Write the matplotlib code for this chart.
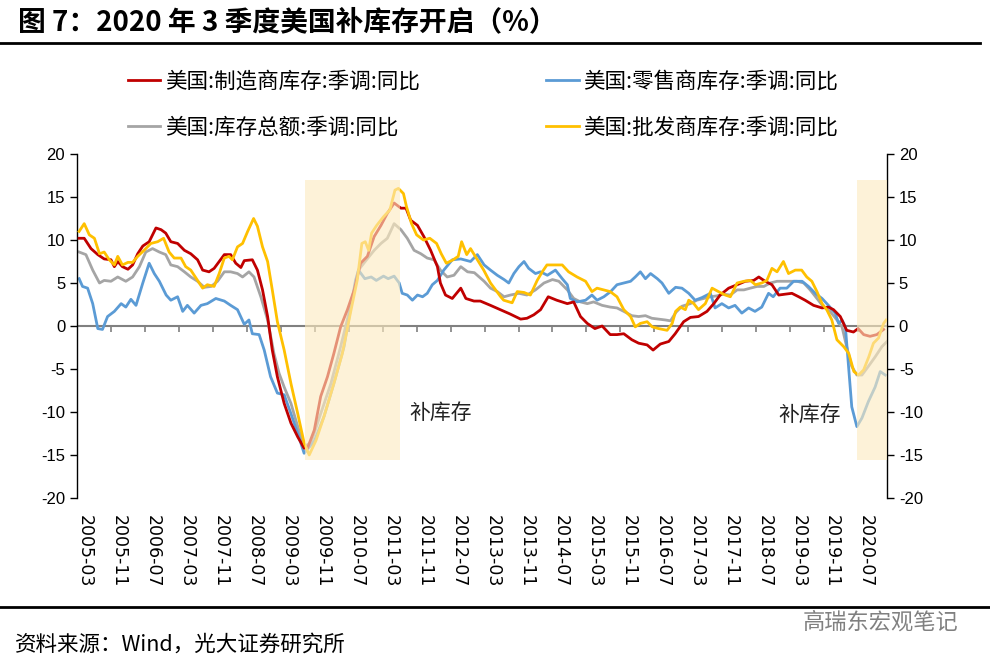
import numpy as np
import matplotlib.pyplot as plt
from matplotlib.lines import Line2D

plt.rcParams['font.family'] = ['Noto Sans CJK SC', 'DejaVu Sans']
plt.rcParams['axes.unicode_minus'] = False

# x values: months since 2005-03
tick_labels = ['2005-03', '2005-11', '2006-07', '2007-03', '2007-11', '2008-07',
               '2009-03', '2009-11', '2010-07', '2011-03', '2011-11', '2012-07',
               '2013-03', '2013-11', '2014-07', '2015-03', '2015-11', '2016-07',
               '2017-03', '2017-11', '2018-07', '2019-03', '2019-11', '2020-07']

# 美国:制造商库存:季调:同比
mfg_t = [0.5, 1.7, 3.3, 4.9, 6.4, 8.0, 8.8, 9.6, 10.7, 12.0, 13.1, 14.3, 15.5, 17.0, 18.6, 19.8,
         20.9, 22.1, 23.7, 25.3, 26.8, 28.4, 29.6, 31.1, 32.3, 33.5, 34.7, 36.2, 37.4, 38.6, 39.4,
         41.3, 42.5, 43.7, 44.9, 46.0, 47.2, 48.8, 50.4, 52.0, 53.5, 54.3, 55.9, 57.4, 59.0, 60.5,
         62.1, 63.7, 65.3, 66.8, 68.4, 70.0, 71.6, 73.1, 74.7, 76.3, 77.5, 78.6, 80.2, 81.7, 83.3,
         84.9, 85.6, 86.8, 88.4, 90.4, 91.6, 93.5, 95.0, 97.4, 99.7, 102.0, 104.5, 106.0, 107.6,
         109.2, 111.0, 113.0, 115.5, 117.0, 118.6, 120.2, 122.0, 123.7, 125.6, 127.2, 128.8, 130.7,
         132.3, 134.3, 135.7, 137.4, 139.4, 140.9, 142.9, 144.5, 146.4, 148.4, 150.0, 151.5, 153.5,
         155.5, 157.4, 159.4, 160.6, 162.1, 163.7, 165.3, 166.8, 168.4, 170.0, 171.5, 173.5, 175.5,
         177.0, 178.2, 179.8, 181.3, 182.9, 184.0, 185.3, 186.8, 188.4, 190.0]
mfg_v = [10.2, 10.2, 9.0, 8.3, 7.8, 7.7, 6.9, 7.5, 6.9, 6.6, 7.1, 8.4, 9.3, 9.8, 11.4, 11.2,
         10.8, 9.8, 9.6, 8.8, 8.4, 7.7, 6.5, 6.3, 6.7, 7.5, 8.3, 8.3, 7.3, 6.8, 7.6,
         7.7, 6.5, 4.2, 1.1, -2.8, -5.9, -9.0, -11.3, -12.9, -14.2, -14.2, -12.1, -8.2, -5.9, -3.2,
         -0.1, 1.9, 4.2, 7.3, 8.1, 10.4, 11.7, 13.1, 14.3, 13.7, 13.7, 12.3, 11.7, 10.4, 8.8,
         6.9, 5.0, 3.6, 3.2, 4.4, 3.2, 2.9, 2.9, 2.4, 1.9, 1.4, 0.8, 0.9, 1.3,
         1.9, 3.4, 3.0, 2.6, 2.8, 1.1, 0.3, -0.3, 0.0, -1.0, -1.0, -0.9, -1.6,
         -2.0, -2.2, -2.8, -2.1, -1.8, -0.9, 0.5, 1.0, 1.1, 1.7, 2.6, 3.6, 4.4,
         4.8, 5.2, 5.3, 5.7, 5.2, 4.8, 3.6, 3.7, 3.8, 3.4, 3.0, 2.4, 2.1,
         2.2, 1.9, 1.1, -0.5, -0.7, -0.3, -1.0, -1.2, -1.0, -0.4]

# 美国:零售商库存:季调:同比
ret_t = [0.5, 1.3, 2.5, 3.7, 4.9, 6.0, 7.2, 8.8, 10.4, 11.5, 12.7, 13.9, 15.5, 17.0, 18.2, 19.4,
         21.0, 22.1, 23.7, 24.9, 26.0, 27.6, 29.2, 30.7, 32.7, 34.7, 36.2, 37.8, 39.4, 40.5, 41.3,
         42.9, 44.1, 45.6, 47.2, 48.8, 50.4, 52.0, 53.5, 55.9, 58.2, 60.5, 62.9, 64.4, 65.6, 66.3,
         67.8, 69.3, 70.5, 72.2, 73.3, 74.7, 75.9, 76.6, 77.8, 79.0, 80.2, 81.4, 82.5, 83.7, 84.9,
         86.4, 88.4, 90.4, 92.7, 94.3, 95.9, 97.4, 99.0, 100.6, 101.7, 102.9, 104.1, 105.3, 106.4,
         108.0, 109.2, 110.8, 112.7, 114.3, 115.5, 116.2, 117.8, 119.8, 121.3, 122.5, 124.1, 125.7,
         127.2, 128.8, 130.4, 131.5, 132.7, 133.9, 135.1, 136.7, 137.8, 139.4, 141.0, 142.5, 144.1,
         145.6, 147.2, 149.2, 150.3, 151.9, 153.5, 155.0, 156.6, 158.2, 159.7, 161.3, 162.9, 164.0,
         165.6, 167.2, 168.8, 170.8, 172.3, 173.9, 175.5, 177.0, 178.6, 179.4, 180.2, 181.0, 181.8,
         182.5, 183.7, 184.9, 186.4, 188.0, 189.2, 190.4]
ret_v = [5.5, 4.6, 4.4, 2.6, -0.3, -0.4, 1.1, 1.7, 2.6, 2.2, 3.1, 2.4, 5.0, 7.3, 6.1, 5.2,
         3.6, 3.0, 3.4, 1.7, 2.4, 1.5, 2.4, 2.6, 3.2, 2.9, 2.4, 1.9, 0.2, 0.7, -0.9,
         -1.0, -2.8, -5.9, -7.8, -8.0, -10.2, -12.5, -14.8, -13.4, -10.5, -6.7, -2.4, 1.9, 5.3, 6.5,
         5.5, 5.7, 5.3, 5.8, 5.5, 5.8, 5.0, 3.8, 3.6, 3.0, 3.6, 3.4, 3.8, 4.8, 5.3,
         6.5, 7.7, 7.8, 7.5, 8.3, 7.1, 6.5, 5.9, 5.4, 5.0, 6.1, 6.9, 7.5, 6.7,
         6.1, 6.3, 5.9, 6.5, 5.5, 4.8, 3.2, 2.8, 3.0, 3.6, 3.0, 3.4, 4.0,
         4.8, 5.0, 5.2, 5.7, 6.3, 5.5, 6.1, 5.5, 5.0, 3.8, 4.5, 4.4, 3.8,
         3.0, 3.3, 3.8, 2.1, 2.6, 2.1, 2.4, 1.5, 2.1, 1.7, 2.2, 3.8, 3.4,
         4.4, 4.4, 5.2, 5.2, 4.6, 3.8, 3.2, 2.4, 1.5, 0.3, 0.7, -0.1, -5.1,
         -9.4, -11.7, -10.7, -8.8, -7.1, -5.3, -5.7]

# 美国:库存总额:季调:同比
tot_t = [0.5, 2.1, 3.7, 5.3, 6.4, 8.0, 9.6, 11.5, 13.1, 14.7, 16.2, 17.8, 19.4, 20.9, 22.1, 23.7,
         25.3, 26.8, 28.4, 30.0, 31.6, 33.1, 34.7, 36.2, 37.8, 39.0, 40.5, 41.7, 43.3, 44.9, 46.4,
         47.6, 48.8, 50.4, 52.0, 53.5, 55.1, 57.4, 59.8, 62.1, 64.4, 66.3, 68.2, 70.0, 71.6, 73.1,
         74.7, 76.3, 77.8, 79.4, 81.0, 82.5, 84.1, 85.6, 87.2, 88.8, 90.4, 92.0, 93.6, 95.9, 97.4,
         99.0, 100.6, 102.1, 104.1, 106.0, 108.0, 110.0, 112.0, 113.5, 115.5, 117.0, 118.6, 120.2,
         121.7, 123.7, 125.6, 127.2, 128.8, 130.7, 132.3, 133.9, 135.4, 137.0, 138.6, 139.8, 141.1,
         142.5, 144.5, 146.0, 147.6, 149.2, 150.7, 152.3, 153.9, 155.5, 157.1, 158.6, 160.2, 161.8,
         163.3, 164.9, 166.5, 168.0, 169.6, 171.2, 172.7, 174.3, 175.9, 177.4, 179.0, 180.2, 181.3,
         182.5, 183.7, 184.9, 186.4, 188.0, 189.6, 190.8]
tot_v = [8.6, 8.3, 6.5, 5.0, 5.3, 5.2, 5.7, 5.2, 5.7, 6.9, 8.6, 9.0, 8.6, 8.3, 7.1, 6.9,
         6.3, 5.7, 5.2, 4.5, 4.6, 5.2, 6.3, 6.3, 6.1, 5.7, 6.3, 5.7, 3.4, 0.7, -3.2,
         -5.5, -7.1, -9.0, -11.7, -14.0, -13.6, -10.2, -6.7, -2.4, 2.2, 6.5, 7.7, 8.8, 9.6, 10.2,
         11.9, 11.2, 10.2, 8.8, 8.4, 7.9, 7.7, 6.5, 5.7, 5.9, 6.9, 6.3, 6.2, 5.2, 4.4,
         4.0, 3.4, 3.6, 3.8, 3.6, 4.2, 5.0, 5.4, 5.2, 4.2, 3.2, 2.8, 2.6,
         2.8, 2.4, 2.2, 2.1, 1.7, 1.2, 1.1, 1.2, 0.9, 0.8, 0.7, 0.6, 1.6,
         2.3, 2.6, 3.0, 3.2, 3.4, 3.5, 3.7, 3.6, 4.2, 4.2, 4.4, 4.6, 4.6,
         5.0, 5.2, 5.2, 5.2, 5.2, 5.0, 4.2, 3.2, 2.2, 1.7, 0.7, -0.1, -2.4,
         -4.7, -5.7, -5.7, -4.7, -3.6, -2.4, -1.8]

# 美国:批发商库存:季调:同比
whl_t = [0.5, 1.7, 2.9, 4.1, 5.3, 6.4, 7.6, 8.8, 9.6, 10.7, 12.0, 13.1, 14.3, 15.8, 17.4, 19.0,
         20.4, 21.7, 22.9, 24.5, 25.6, 26.8, 28.4, 29.6, 30.7, 32.3, 33.5, 34.7, 35.8, 36.6, 37.8,
         39.0, 40.2, 41.6, 42.5, 43.7, 44.9, 46.0, 47.2, 48.8, 50.4, 52.0, 53.5, 54.7, 56.3, 58.2,
         60.5, 62.5, 64.4, 66.0, 67.1, 67.9, 68.7, 69.4, 70.6, 72.2, 73.7, 74.9, 75.7, 76.9, 77.6,
         78.8, 80.0, 81.6, 83.1, 84.7, 85.8, 87.0, 88.6, 89.8, 90.6, 91.8, 92.7, 94.3, 95.8, 97.4,
         99.8, 100.5, 102.5, 103.7, 105.3, 106.8, 108.4, 109.6, 110.7, 112.7, 114.3, 115.8, 117.8,
         119.8, 121.3, 122.5, 124.1, 125.6, 127.2, 128.8, 130.4, 131.5, 132.7, 134.3, 135.5, 137.0,
         139.0, 140.2, 141.0, 142.1, 143.3, 144.1, 145.3, 146.4, 148.0, 149.6, 151.1, 152.7, 153.9,
         155.5, 157.1, 158.6, 159.8, 161.3, 162.5, 163.7, 164.9, 166.4, 167.6, 169.2, 170.7, 171.9,
         173.1, 174.3, 175.5, 176.6, 177.8, 179.0, 180.6, 181.8, 183.0, 184.1, 185.3, 186.5, 187.6,
         188.8, 190.0, 190.6]
whl_v = [11.0, 11.9, 10.6, 10.2, 8.4, 8.6, 7.7, 7.1, 8.1, 7.1, 7.4, 7.4, 8.1, 8.8, 9.6, 9.8,
         10.2, 8.6, 7.9, 7.9, 6.9, 6.5, 5.3, 4.4, 4.8, 4.6, 6.1, 7.9, 8.1, 7.7, 9.2,
         9.6, 11.0, 12.5, 11.6, 9.2, 7.5, 4.2, 0.5, -2.8, -6.7, -10.2, -13.6, -15.0, -13.3, -10.5,
         -6.7, -3.2, 1.5, 5.3, 9.6, 9.8, 8.8, 10.8, 11.7, 12.7, 13.5, 15.8, 16.0, 15.4, 13.9,
         11.9, 10.6, 10.0, 10.2, 9.6, 8.4, 7.3, 7.7, 8.1, 9.8, 8.3, 9.0, 7.7, 6.5, 5.0,
         3.4, 3.0, 2.7, 4.0, 3.9, 3.6, 5.3, 6.3, 7.1, 7.1, 7.1, 6.3, 5.7,
         5.2, 4.0, 4.4, 4.2, 4.0, 3.4, 1.9, 1.1, -0.1, 0.3, 0.5, -0.1, -0.3,
         -0.5, 0.3, 1.7, 2.2, 1.9, 3.0, 2.6, 1.9, 2.6, 4.4, 4.0, 3.6, 3.4,
         5.0, 5.2, 5.3, 4.8, 5.0, 5.3, 6.7, 6.3, 7.5, 6.1, 6.5, 6.5, 5.7,
         5.2, 4.0, 2.6, 1.9, 0.7, -1.6, -2.4, -3.2, -5.3, -5.7, -5.1, -3.6, -2.0,
         -1.4, 0.3, 0.7]

# 补库存 periods (months since 2005-03) and label positions
restock_periods = [(53.6, 76.2), (183.8, 190.8)]
restock_labels = [(85.6, -10.1), (172.7, -10.3)]

fig = plt.figure(figsize=(9.9, 6.65), dpi=100)
ax = fig.add_axes([77/990, 1 - 498/665, (887 - 77)/990, (498 - 154)/665])

l_tot, = ax.plot(tot_t, tot_v, color='#A5A5A5', lw=2.0, label='美国:库存总额:季调:同比', zorder=2)
l_ret, = ax.plot(ret_t, ret_v, color='#5B9BD5', lw=2.0, label='美国:零售商库存:季调:同比', zorder=2)
l_mfg, = ax.plot(mfg_t, mfg_v, color='#C00000', lw=2.0, label='美国:制造商库存:季调:同比', zorder=3)
l_whl, = ax.plot(whl_t, whl_v, color='#FFC000', lw=2.0, label='美国:批发商库存:季调:同比', zorder=3)

for (a, b) in restock_periods:
    ax.fill_between([a, b], -15.6, 17.0, color='#FDEBC0', alpha=0.62, lw=0, zorder=5)
for (x, y) in restock_labels:
    ax.text(x, y, '补库存', fontsize=15, ha='center', va='center', color='#222222', zorder=6)

# zero line with its own small ticks
ax.axhline(0, color='#808080', lw=1.5, zorder=1)
ax.vlines(np.arange(8, 185, 8), -0.75, 0, color='#808080', lw=1.2, zorder=1)

ax.set_xlim(0, 190.8)
ax.set_ylim(-20, 20)
ax.set_yticks(np.arange(-20, 21, 5))
ax.set_xticks(np.arange(len(tick_labels)) * 8 + 1.9)
ax.set_xticklabels(tick_labels, rotation=270)
ax.tick_params(axis='x', length=0, pad=12, labelsize=12.5, labelfontfamily='DejaVu Sans')
ax.tick_params(axis='y', direction='out', length=5, labelsize=12, left=True, right=True,
               labelleft=True, labelright=True, width=1, labelfontfamily='Liberation Sans')

for s in ['top', 'bottom']:
    ax.spines[s].set_visible(False)
for s in ['left', 'right']:
    ax.spines[s].set_color('black')
    ax.spines[s].set_linewidth(1)

ax.legend(handles=[l_mfg, l_tot, l_ret, l_whl], ncol=2, loc='upper left',
          bbox_to_anchor=(128/990, 1 - 71/665), bbox_transform=fig.transFigure,
          frameon=False, fontsize=15.5, handlelength=1.5, handletextpad=0.2,
          columnspacing=5.9, borderpad=0, borderaxespad=0, labelspacing=1.1)

fig.text(18/990, 1 - 22/665, '图 7：2020 年 3 季度美国补库存开启（%）', fontsize=20,
         fontweight='bold', va='center', ha='left')
fig.add_artist(Line2D([0, 980/990], [1 - 43/665, 1 - 43/665], color='black', lw=2))
fig.add_artist(Line2D([0, 1], [1 - 607/665, 1 - 607/665], color='black', lw=2))
fig.text(15/990, 1 - 645/665, '资料来源：Wind，光大证券研究所', fontsize=15.5, va='center', ha='left')
fig.text(958/990, 1 - 622/665, '高瑞东宏观笔记', fontsize=16, va='center', ha='right', color='#808080')

fig.savefig('out.png', dpi=100)
